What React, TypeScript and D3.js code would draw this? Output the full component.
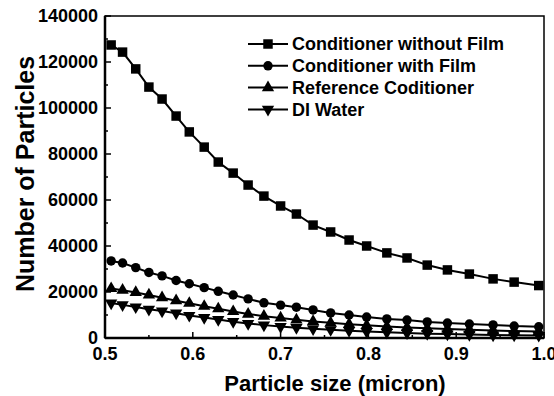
import * as d3 from 'd3';

const sizes = [0.507, 0.520, 0.535, 0.550, 0.565, 0.581, 0.596, 0.613, 0.629, 0.646, 0.663, 0.681, 0.700, 0.718, 0.737, 0.757, 0.778, 0.798, 0.821, 0.844, 0.867, 0.890, 0.915, 0.942, 0.966, 0.994];

const withoutFilm = [127400, 124300, 117000, 109100, 103900, 96500, 89600, 83000, 76500, 71700, 66500, 61700, 57400, 53900, 49100, 46100, 42600, 40000, 37000, 34800, 31700, 29600, 27800, 25700, 24300, 22800];
const withFilm = [33500, 32600, 30600, 28500, 27000, 25000, 23600, 21900, 20300, 18700, 17000, 15300, 14300, 13400, 12200, 10900, 10000, 9100, 8300, 7800, 7000, 6500, 6100, 5700, 5200, 4900];
const reference = [21500, 20800, 19800, 18700, 17500, 16200, 15100, 13800, 12700, 11500, 10400, 9500, 8700, 7900, 7200, 6600, 6000, 5500, 5000, 4600, 4200, 3900, 3600, 3300, 3000, 2800];
const diWater = [15200, 14400, 13500, 12500, 11700, 10800, 9800, 8900, 8000, 7100, 6300, 5600, 5000, 4500, 4000, 3600, 3200, 2800, 2500, 2200, 1900, 1700, 1500, 1300, 1200, 1100];

const seriesNames = ['Conditioner without Film', 'Conditioner with Film', 'Reference Coditioner', 'DI Water'];
const xTicks = [0.5, 0.6, 0.7, 0.8, 0.9, 1.0];
const yTicks = [0, 20000, 40000, 60000, 80000, 100000, 120000, 140000];

const W = 554;
const H = 396;
const m = { left: 105, right: 10, top: 16, bottom: 58 };
const font = '"Liberation Sans", Arial, Helvetica, sans-serif';

export default function App() {
  const x = d3.scaleLinear().domain([0.5, 1.0]).range([m.left, W - m.right]);
  const y = d3.scaleLinear().domain([0, 140000]).range([H - m.bottom, m.top]);

  const series = [
    { name: seriesNames[0], values: withoutFilm, sym: d3.symbolSquare, size: 90, rot: 0 },
    { name: seriesNames[1], values: withFilm, sym: d3.symbolCircle, size: 70, rot: 0 },
    { name: seriesNames[2], values: reference, sym: d3.symbolTriangle, size: 66, rot: 0 },
    { name: seriesNames[3], values: diWater, sym: d3.symbolTriangle, size: 66, rot: 180 },
  ];

  const line = d3
    .line<number>()
    .x((_, i) => x(sizes[i]))
    .y((d) => y(d));

  const xMinor = d3.range(0.55, 1.0, 0.1);
  const yMinor = d3.range(10000, 140000, 20000);
  const [x0, x1] = x.range();
  const [y0, y1] = y.range();

  return (
    <svg width={W} height={H} style={{ position: 'absolute', left: 0, top: 0, background: '#fff' }} fontFamily={font} fontWeight="bold">
      <rect x={0} y={0} width={W} height={H} fill="#fff" />

      {series.map((s) => (
        <g key={s.name}>
          <path d={line(s.values) || ''} fill="none" stroke="#000" strokeWidth={2} />
          {s.values.map((v, i) => (
            <path
              key={i}
              d={d3.symbol(s.sym, s.size)() || ''}
              transform={`translate(${x(sizes[i])},${y(v)}) rotate(${s.rot})`}
              fill="#000"
            />
          ))}
        </g>
      ))}

      {/* frame */}
      <rect x={x0} y={y1} width={x1 - x0} height={y0 - y1} fill="none" stroke="#000" strokeWidth={1.5} />
      <line x1={x0} x2={x0} y1={y1} y2={y0} stroke="#000" strokeWidth={2.5} />
      <line x1={x0} x2={x1} y1={y0} y2={y0} stroke="#000" strokeWidth={2.5} />

      {/* y ticks */}
      {yTicks.map((t) => (
        <g key={t}>
          <line x1={x0} x2={x0 + 6} y1={y(t)} y2={y(t)} stroke="#000" strokeWidth={1.5} />
          <text x={x0 - 7} y={y(t)} dy="0.36em" textAnchor="end" fontSize={18}>
            {t}
          </text>
        </g>
      ))}
      {yMinor.map((t) => (
        <line key={t} x1={x0} x2={x0 + 3} y1={y(t)} y2={y(t)} stroke="#000" strokeWidth={1.5} />
      ))}

      {/* x ticks */}
      {xTicks.map((t) => (
        <g key={t}>
          <line x1={x(t)} x2={x(t)} y1={y0} y2={y0 - 6} stroke="#000" strokeWidth={1.5} />
          <text x={x(t)} y={y0 + 22} textAnchor="middle" fontSize={18}>
            {t.toFixed(1)}
          </text>
        </g>
      ))}
      {xMinor.map((t) => (
        <line key={t} x1={x(t)} x2={x(t)} y1={y0} y2={y0 - 3} stroke="#000" strokeWidth={1.5} />
      ))}

      {/* axis titles */}
      <text x={335} y={391} textAnchor="middle" fontSize={22}>
        Particle size (micron)
      </text>
      <text transform={`translate(34,174) rotate(-90)`} textAnchor="middle" fontSize={25}>
        Number of Particles
      </text>

      {/* legend */}
      {series.map((s, i) => {
        const ly = 44 + i * 21.8;
        return (
          <g key={s.name}>
            <line x1={248} x2={288} y1={ly} y2={ly} stroke="#000" strokeWidth={2} />
            <path d={d3.symbol(s.sym, s.size)() || ''} transform={`translate(268,${ly}) rotate(${s.rot})`} fill="#000" />
            <text x={292} y={ly} dy="0.36em" fontSize={18}>
              {s.name}
            </text>
          </g>
        );
      })}
    </svg>
  );
}
